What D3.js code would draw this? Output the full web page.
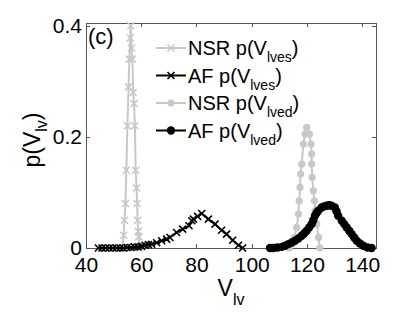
<!DOCTYPE html>
<meta charset="utf-8">
<style>
    body { margin: 0; background: #fff; }
    text { font-family: "Liberation Sans", Arial, Helvetica, sans-serif; fill: #000; }
    .frame line { stroke: #555; shape-rendering: crispEdges; }
    .axis path.domain { display: none; }
    .axis line { stroke: #555; shape-rendering: crispEdges; }
</style>
<body>
<div id="chart"></div>
<script src="https://cdn.jsdelivr.net/npm/d3@7"></script>
<script>
    // NSR end-systolic volume distribution (grey, x markers)
    var nsrEsV = [53.2, 53.6, 53.9, 54.3, 54.6, 55.0, 55.4, 55.7, 56.0, 56.2, 56.5, 56.8, 57.1, 57.4, 57.7, 58.0, 58.3, 58.5, 58.7, 58.9, 59.1, 59.4];
    var nsrEsP = [0, 0.023, 0.05, 0.08, 0.14, 0.22, 0.29, 0.34, 0.378, 0.40, 0.36, 0.34, 0.28, 0.26, 0.22, 0.14, 0.108, 0.08, 0.05, 0.03, 0.02, 0];

    // AF end-systolic volume distribution (black, x markers)
    var afEsV = [44.5, 45.8, 47.1, 48.4, 49.7, 51.0, 52.3, 53.6, 54.9, 56.2, 57.5, 58.8, 60.1, 61.4, 62.6, 63.8, 65.6, 67.4, 69.2, 70.4, 72.8, 75.0, 77.3, 78.3, 78.9, 80.4, 81.9, 84.3, 86.7, 89.1, 90.9, 93.1, 95.2, 96.7];
    var afEsP = [0, 0, 0, 0, 0, 0, 0, 0, 0.001, 0.001, 0.002, 0.002, 0.003, 0.0049, 0.006, 0.0067, 0.0095, 0.013, 0.016, 0.019, 0.028, 0.034, 0.040, 0.049, 0.052, 0.057, 0.062, 0.052, 0.043, 0.032, 0.025, 0.014, 0.005, 0];

    // NSR end-diastolic volume distribution (grey, circles)
    var nsrEdV = [113.6, 114.5, 115.4, 116.3, 116.9, 117.2, 117.5, 117.7, 118.1, 118.7, 119.3, 119.9, 120.9, 121.5, 121.7, 121.7, 121.9, 122.3, 122.7, 123.0, 123.6, 124.2, 124.7];
    var nsrEdP = [0, 0.007, 0.019, 0.037, 0.061, 0.085, 0.109, 0.133, 0.151, 0.187, 0.205, 0.217, 0.205, 0.187, 0.169, 0.151, 0.127, 0.103, 0.085, 0.067, 0.043, 0.019, 0];

    // AF end-diastolic volume distribution (black, circles)
    var afEdV = [106.6, 107.8, 109.3, 110.9, 112.1, 113.3, 114.5, 115.7, 116.9, 118.1, 119.0, 119.9, 120.8, 121.7, 122.3, 122.9, 123.5, 124.1, 125.3, 126.2, 127.1, 128.0, 128.9, 130.1, 130.7, 131.3, 132.6, 133.5, 134.4, 135.3, 136.2, 137.1, 138.0, 139.2, 140.4, 141.9, 143.4];
    var afEdP = [0, 0, 0.001, 0.002, 0.004, 0.007, 0.010, 0.013, 0.017, 0.022, 0.026, 0.031, 0.037, 0.043, 0.050, 0.058, 0.063, 0.067, 0.073, 0.075, 0.076, 0.077, 0.076, 0.073, 0.066, 0.058, 0.049, 0.043, 0.037, 0.031, 0.025, 0.019, 0.013, 0.008, 0.004, 0.001, 0];

    var xTicks = [40, 60, 80, 100, 120, 140];
    var yTicks = [0, 0.2, 0.4];
    var yTickLabels = ["0", "0.2", "0.4"];

    var legendNames = ["NSR p(V", "AF p(V", "NSR p(V", "AF p(V"];
    var legendSubs = ["lves", "lves", "lved", "lved"];

    var grey = "#c8c8c8";
    var series = [
        {v: nsrEsV, p: nsrEsP, color: grey, marker: "x"},
        {v: afEsV, p: afEsP, color: "#000", marker: "x"},
        {v: nsrEdV, p: nsrEdP, color: grey, marker: "o"},
        {v: afEdV, p: afEdP, color: "#000", marker: "o"}
    ];

    var margin = {top: 23, right: 39, bottom: 65, left: 86},
        W = 415, H = 313,
        width = W - margin.left - margin.right,
        height = H - margin.top - margin.bottom;

    var svg = d3.select("#chart").append("svg")
        .attr("width", W)
        .attr("height", H)
        .append("g")
        .attr("transform", "translate(" + margin.left + "," + margin.top + ")");

    var x = d3.scaleLinear().domain([40, 145]).range([0, width]);
    var y = d3.scaleLinear().domain([0, 0.405]).range([height, 0]);

    // box
    var frame = svg.append("g").attr("class", "frame");
    frame.append("line").attr("x1", 0).attr("x2", width).attr("y1", 0.5).attr("y2", 0.5);
    frame.append("line").attr("x1", 0).attr("x2", width).attr("y1", height + 0.5).attr("y2", height + 0.5);
    frame.append("line").attr("x1", 0.5).attr("x2", 0.5).attr("y1", 0).attr("y2", height);
    frame.append("line").attr("x1", width + 0.5).attr("x2", width + 0.5).attr("y1", 0).attr("y2", height + 1);

    svg.append("g")
        .attr("class", "x axis")
        .attr("transform", "translate(0," + height + ")")
        .call(d3.axisBottom(x).tickValues(xTicks).tickSize(-4).tickPadding(9))
        .selectAll("text").style("font-size", "21px");

    svg.append("g")
        .attr("class", "x axis")
        .call(d3.axisTop(x).tickValues(xTicks).tickSize(-4).tickFormat(""));

    svg.append("g")
        .attr("class", "y axis")
        .call(d3.axisLeft(y).tickValues(yTicks).tickSize(-4).tickPadding(4)
            .tickFormat(function (d, i) { return yTickLabels[i]; }))
        .selectAll("text").style("font-size", "21px");

    svg.append("g")
        .attr("class", "y axis")
        .attr("transform", "translate(" + width + ",0)")
        .call(d3.axisRight(y).tickValues(yTicks).tickSize(-4).tickFormat(""));

    function xPath(s) {
        return "M" + (-s) + "," + (-s) + "L" + s + "," + s + "M" + (-s) + "," + s + "L" + s + "," + (-s);
    }

    var line = d3.line()
        .x(function (d) { return x(d[0]); })
        .y(function (d) { return y(d[1]); });

    series.forEach(function (s) {
        var pts = s.v.map(function (v, i) { return [v, s.p[i]]; });
        var g = svg.append("g");
        g.append("path")
            .datum(pts)
            .attr("d", line)
            .attr("fill", "none")
            .attr("stroke", s.color)
            .attr("stroke-width", 2);
        if (s.marker === "x") {
            g.selectAll("path.mk")
                .data(pts)
                .enter().append("path")
                .attr("class", "mk")
                .attr("transform", function (d) { return "translate(" + x(d[0]) + "," + y(d[1]) + ")"; })
                .attr("d", xPath(3.5))
                .attr("stroke", s.color)
                .attr("stroke-width", 1.6)
                .attr("fill", "none");
        } else {
            g.selectAll("circle")
                .data(pts)
                .enter().append("circle")
                .attr("cx", function (d) { return x(d[0]); })
                .attr("cy", function (d) { return y(d[1]); })
                .attr("r", s.color === grey ? 3.6 : 4.2)
                .attr("fill", s.color);
        }
    });

    // panel tag
    svg.append("text")
        .attr("x", 2)
        .attr("y", 21)
        .style("font-size", "22px")
        .text("(c)");

    // legend
    var legend = svg.append("g").attr("transform", "translate(70,0)");
    legendNames.forEach(function (name, i) {
        var s = series[i];
        var ly = 25 + i * 27.5;
        var row = legend.append("g").attr("transform", "translate(0," + ly + ")");
        row.append("line")
            .attr("x1", 0).attr("x2", 30)
            .attr("stroke", s.color)
            .attr("stroke-width", 2);
        if (s.marker === "x") {
            row.append("path").attr("transform", "translate(15,0)")
                .attr("d", xPath(3.5)).attr("stroke", s.color).attr("stroke-width", 1.6);
        } else {
            row.append("circle").attr("cx", 15).attr("r", s.color === grey ? 3.6 : 4.2).attr("fill", s.color);
        }
        var t = row.append("text")
            .attr("x", 32)
            .attr("y", 7)
            .style("font-size", "20px");
        t.append("tspan").text(name);
        t.append("tspan").attr("dy", 7).style("font-size", "14px").text(legendSubs[i]);
        t.append("tspan").attr("dy", -7).text(")");
    });

    // axis labels
    var xl = svg.append("text")
        .attr("x", width / 2)
        .attr("y", height + 48)
        .attr("text-anchor", "middle")
        .style("font-size", "23px");
    xl.append("tspan").text("V");
    xl.append("tspan").attr("dy", 9).style("font-size", "16px").text("lv");

    var yl = svg.append("text")
        .attr("transform", "translate(" + (40 - margin.left) + "," + (140 - margin.top) + ") rotate(-90)")
        .attr("text-anchor", "middle")
        .style("font-size", "23px");
    yl.append("tspan").text("p(V");
    yl.append("tspan").attr("dy", 7).style("font-size", "16px").text("lv");
    yl.append("tspan").attr("dy", -7).text(")");
</script>
</body>
